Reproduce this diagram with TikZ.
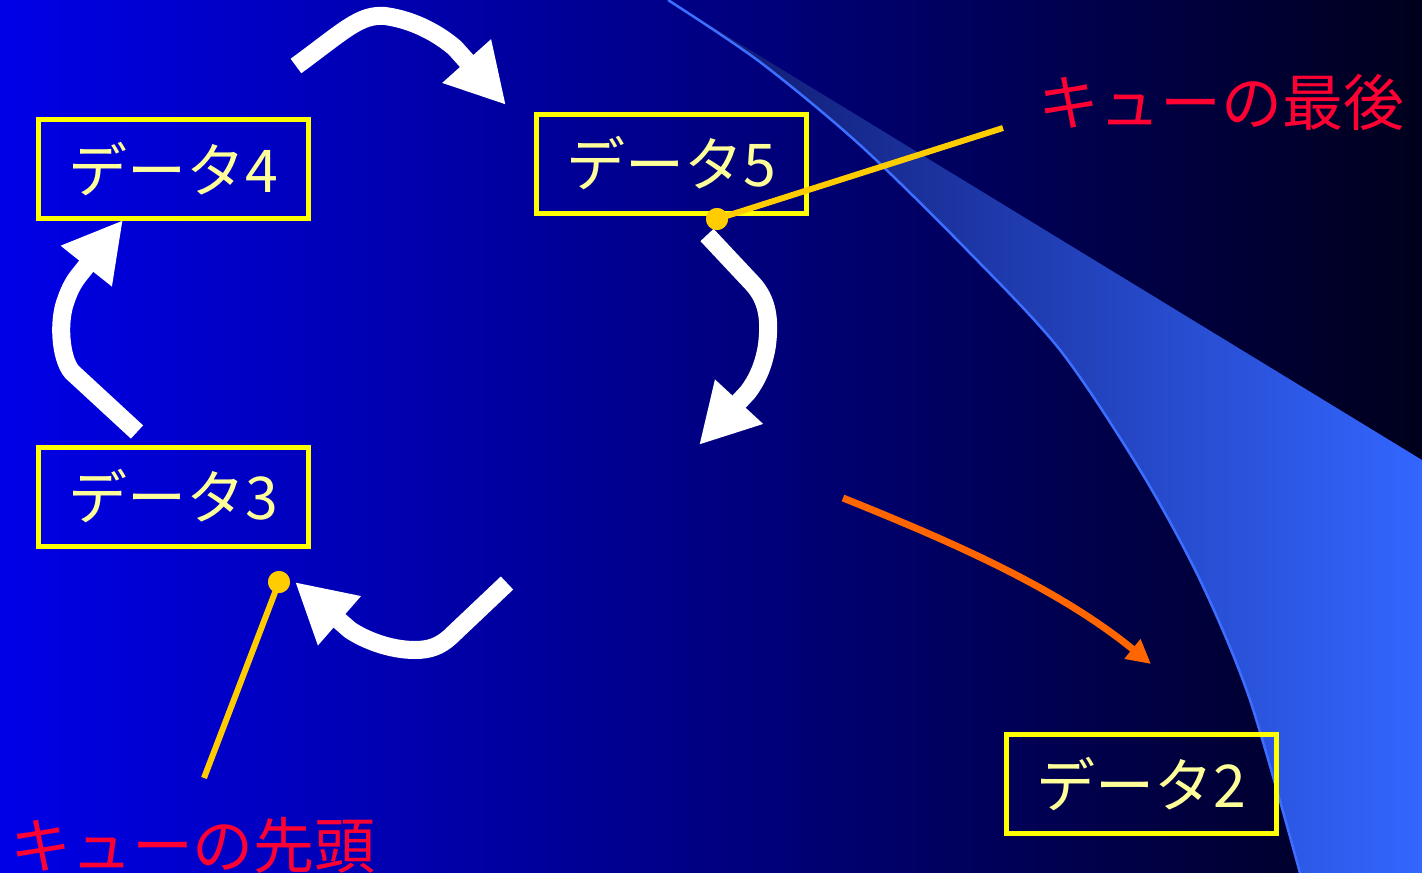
\documentclass[tikz,border=0pt]{standalone}
\usepackage{fontspec}
\newfontfamily\jp{Noto Sans CJK JP}
\usetikzlibrary{arrows.meta}
\definecolor{bgL}{RGB}{0,0,232}
\definecolor{bgR}{RGB}{0,0,28}
\definecolor{bandA}{RGB}{14,22,105}
\definecolor{bandM}{RGB}{40,76,200}
\definecolor{bandB}{RGB}{51,102,255}
\definecolor{edgeblue}{RGB}{60,110,255}
\definecolor{boxyellow}{RGB}{255,255,0}
\definecolor{txtyellow}{RGB}{255,255,153}
\definecolor{lblred}{RGB}{255,0,51}
\definecolor{pointer}{RGB}{255,204,0}
\definecolor{orangearrow}{RGB}{255,102,0}
\begin{document}
\begin{tikzpicture}[x=1pt,y=-1pt,
  databox/.style={draw=boxyellow, line width=5pt, minimum width=270pt, minimum height=99pt, inner sep=0pt, text=txtyellow, font=\jp\fontsize{59}{62}\selectfont},
  qlabel/.style={text=lblred, inner sep=0pt, font=\jp\fontsize{61}{64}\selectfont},
  whitearrow/.style={draw=white, line width=18pt, -{Triangle[length=59pt,width=61pt]}},
  pointerline/.style={draw=pointer, line width=6pt},
  pointerdot/.style={fill=pointer, circle, minimum size=22pt, inner sep=0pt},
  orangeline/.style={draw=orangearrow, line width=7pt, -{Triangle[length=24pt,width=24pt]}}]
\useasboundingbox (0,0) rectangle (1422,873);
% background
\shade[left color=bgL, right color=bgR] (0,0) rectangle (1422,873);
% light band
\shade[left color=bandA, middle color=bandM, right color=bandB]
  (668,0) -- (1422,460) -- (1422,873) -- (1300,873)
  -- plot[smooth] coordinates {(1300,873) (1250,700) (1200,580) (1140,470) (1060,350) (967,250) (860,145) (760,62) (668,0)} -- cycle;
\draw[edgeblue, line width=2.5pt]
  plot[smooth] coordinates {(668,0) (760,62) (860,145) (967,250) (1060,350) (1140,470) (1200,580) (1250,700) (1300,873)};
% boxes
\node[databox] (d4) at (173.5,169) {データ4};
\node[databox] (d3) at (173,496.5) {データ3};
\node[databox] (d5) at (671.5,163.5) {データ5};
\node[databox] (d2) at (1141,784) {データ2};
% white arrows
\coordinate (a1s) at (296,66);
\coordinate (a1e) at (506,105);
\draw[whitearrow] (a1s) .. controls (345,30) and (360,14) .. (385,16) .. controls (415,20) and (440,35) .. (455,48) -- (a1e);
\coordinate (a2s) at (137,432);
\coordinate (a2e) at (123,220);
\draw[whitearrow] (a2s) -- (72,372) .. controls (60,358) and (58,320) .. (66,300) .. controls (70,288) and (75,280) .. (80,274) -- (a2e);
\coordinate (a3s) at (707,235);
\coordinate (a3e) at (699,445);
\draw[whitearrow] (a3s) -- (752,283) .. controls (768,300) and (770,320) .. (767,345) .. controls (764,365) and (757,380) .. (748,392) -- (a3e);
\coordinate (a4s) at (507,583);
\coordinate (a4e) at (295,582);
\draw[whitearrow] (a4s) -- (450,637) .. controls (440,646) and (430,650) .. (415,650) .. controls (390,650) and (365,640) .. (350,630) -- (a4e);
% orange arrow
\coordinate (os) at (843,498);
\coordinate (oe) at (1151,664);
\draw[orangeline] (os) .. controls (960,545) and (1060,590) .. (oe);
% labels and pointers
\node[qlabel] (last) at (1221,102) {キューの最後};
\node[qlabel] (head) at (193,845) {キューの先頭};
\coordinate (lastEnd) at (1003,128);
\coordinate (headEnd) at (204,778);
\node[pointerdot] (dot5) at (717,219) {};
\node[pointerdot] (dot3) at (279,582) {};
\draw[pointerline] (lastEnd) -- (dot5.center);
\draw[pointerline] (headEnd) -- (dot3.center);
\node[pointerdot] at (dot5) {};
\node[pointerdot] at (dot3) {};
\end{tikzpicture}
\end{document}
